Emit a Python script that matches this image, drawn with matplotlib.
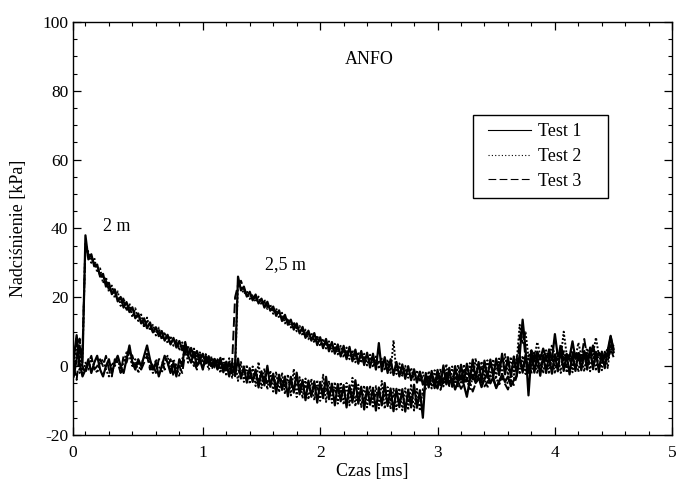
import numpy as np
import matplotlib
matplotlib.use("Agg")
import matplotlib.pyplot as plt
from matplotlib.ticker import MultipleLocator, FixedLocator
from matplotlib.patches import Rectangle

plt.rcParams['font.family'] = ['Liberation Serif', 'DejaVu Serif']
plt.rcParams['axes.unicode_minus'] = False

# sampling of the recorded signals [ms]
T_START = -0.1
T_STEP = 0.025

# overpressure [kPa], gauge at 2 m
test1_2m = [
    -3, 2, 6, 1, 38, 31, 32.5, 29, 29.5, 26,
    26.8, 23.1, 24.2, 20.9, 22.3, 18.8, 20.1, 17.0, 18.6, 15.7,
    17.1, 13.9, 15.3, 12.4, 13.9, 11.0, 12.7, 9.8, 11.3, 8.7,
    10.2, 7.4, 9.1, 6.3, 8.2, 5.4, 7.3, 4.6, 6.2, 3.3,
    5.3, 2.5, 4.4, 1.7, 3.6, 0.8, 2.9, 0.2, 2.1, -0.6,
    2.4, -1.8, 1.3, -3.0, 0.9, -2.9, 2.2, -3.6, -0.1, -4.8,
    -0.6, -4.6, -1.0, -6.2, -1.5, -5.6, 0.1, -6.0, -2.2, -7.9,
    -2.5, -6.9, -3.0, -8.8, -3.1, -7.7, -1.9, -8.2, -4.0, -9.9,
    -4.2, -8.9, -4.4, -10.6, -4.6, -9.3, -3.1, -9.6, -5.1, -11.4,
    -5.2, -10.2, -5.5, -12.0, -5.6, -10.6, -4.1, -10.9, -6.0, -12.6,
    -6.1, -11.2, -6.3, -12.9, -6.2, -11.4, -4.9, -11.6, -6.5, -13.1,
    -6.6, -11.9, -6.7, -13.2, -6.8, -12.0, -5.4, -12.1, -7.0, -15.0,
    -2.0, -6.2, -1.4, -6.4, -1.1, -5.5, 0.2, -5.3, -0.5, -6.0,
    0.0, -4.8, 0.4, -4.6, 0.7, -4.0, 1.9, -3.8, 1.2, -4.5,
    1.6, -3.4, 1.9, -3.1, 2.2, -2.6, 3.6, -2.4, 2.6, -3.1,
    2.8, -2.1, 3.0, -1.9, 3.2, -1.6, 4.6, -1.9, 3.1, -2.8,
    3.2, -2.0, 3.1, -2.2, 3.4, -1.5, 4.9, -1.4, 3.4, -2.4,
    3.5, -1.4, 3.8, -1.2, 3.9, -1.0, 5.4, -0.9, 4.1, -1.7,
    4.2, -0.6, 4.6, 8.8, 4.1,
]
test2_2m = [
    1, 8, -2, 3, 36, 33, 30, 31.5, 27.2, 28.4,
    24.1, 25.9, 21.6, 23.4, 19.8, 21.7, 17.5, 19.9, 16.1, 18.2,
    14.2, 16.8, 13.1, 15.0, 11.2, 14.1, 10.3, 12.0, 8.9, 11.2,
    7.8, 9.9, 6.6, 8.8, 5.9, 7.6, 4.5, 6.9, 3.8, 5.8,
    2.6, 5.1, 1.9, 4.0, 1.0, 3.5, 0.3, 2.8, -0.4, 2.2,
    -2.0, 2.6, -2.9, 2.3, -3.4, 1.5, -4.3, 1.2, -4.6, 0.4,
    -5.2, -0.1, -5.8, 1.2, -6.4, -0.7, -6.8, -1.3, -7.4, -1.6,
    -7.6, -1.9, -8.1, -2.4, -8.5, -0.8, -9.0, -3.2, -9.4, -3.6,
    -9.7, -3.7, -9.9, -4.0, -10.1, -2.5, -10.4, -4.3, -10.7, -4.6,
    -10.9, -4.7, -11.2, -4.9, -11.4, -3.4, -11.7, -5.4, -11.9, -5.6,
    -12.0, -5.7, -12.2, -5.8, -12.3, -4.3, -12.4, -6.1, -12.5, -6.3,
    -12.6, -6.4, -12.8, -6.4, -12.8, -5.2, -12.9, -6.6, -13.0, -6.7,
    -6.6, -1.4, -6.5, -1.2, -6.2, -0.8, -5.9, 0.6, -5.5, -0.1,
    -5.1, 0.3, -4.8, 0.5, -4.5, 0.9, -4.2, 2.3, -3.9, 1.4,
    -3.7, 1.7, -3.4, 2.0, -3.2, 2.2, -2.9, 3.5, -2.6, 2.7,
    -2.5, 2.8, -2.4, 3.0, -2.3, 3.1, -2.2, 4.3, -2.2, 3.1,
    -2.1, 3.2, -2.3, 3.3, -2.2, 3.2, -2.0, 4.6, -1.9, 3.5,
    -1.8, 3.6, -1.7, 3.7, -1.6, 3.8, -1.5, 5.0, -1.4, 4.1,
    -1.2, 4.2, -0.6, 6.5, 3.3,
]
test3_2m = [
    0, -4, 4, 5, 35, 32.5, 31.5, 29.8, 28.6, 26.4,
    25.9, 24.8, 22.2, 22.6, 21.5, 19.1, 19.6, 18.8, 16.5, 17.1,
    16.3, 14.2, 14.8, 14.0, 11.9, 12.6, 12.0, 9.9, 10.7, 10.1,
    8.1, 9.0, 8.5, 6.6, 7.5, 7.0, 5.1, 6.0, 5.5, 3.6,
    4.5, 4.1, 2.3, 3.3, 2.9, 1.1, 2.2, 1.8, 0.1, 1.2,
    0.9, -0.9, 0.6, 0.0, -1.7, -0.6, -0.9, -2.5, -1.4, -1.7,
    -3.3, -2.2, -2.4, -4.1, -2.9, -3.1, -4.7, -3.5, -3.7, -5.3,
    -4.1, -4.3, -5.9, -4.7, -4.9, -6.5, -5.3, -5.5, -7.1, -5.9,
    -6.0, -7.5, -6.2, -6.3, -7.8, -6.5, -6.6, -8.1, -6.9, -7.0,
    -8.5, -7.2, -7.3, -8.8, -7.5, -7.6, -9.2, -7.9, -8.0, -9.5,
    -8.1, -8.2, -9.6, -8.3, -8.3, -9.7, -8.4, -8.5, -9.9, -8.6,
    -8.6, -10.1, -8.7, -8.8, -10.2, -8.9, -8.9, -10.4, -9.0, -9.1,
    -4.6, -3.5, -4.3, -4.7, -3.1, -3.9, -4.1, -2.5, -3.3, -3.5,
    -1.9, -2.7, -2.9, -1.4, -2.3, -2.5, -1.0, -1.9, -2.1, -0.6,
    -1.5, -1.6, 0.2, -1.1, -1.2, 0.6, -0.7, -0.8, 1.0, -0.4,
    -0.3, 1.2, -0.1, 0.0, 1.4, 0.0, 0.1, 1.5, 0.0, 0.1,
    1.5, 0.0, 0.1, 1.6, 0.1, 0.2, 1.7, 0.2, 0.3, 1.8,
    0.3, 0.5, 2.1, 0.5, 0.6, 2.3, 0.7, 0.8, 2.5, 0.9,
    1.0, 2.8, 1.6, 5.0, 2.6,
]

# overpressure [kPa], gauge at 2.5 m
test1_25m = [
    2, 9, 1, -3, -1, 2, -2, 1, 3, -1,
    -3, 0, 2, -2, 1, 3, 0, -2, 2, 6,
    1, -1, 2, 0, 3, 6, 2, -1, 1, -3,
    0, 3, 1, -2, 1, -3, 2, 0, 7, 3,
    1, 4, 0, 2, -1, 3, 1, 0, 2, -1,
    1, 0, -1, 1, -2, 0, 26, 22.0, 23.1, 20.2,
    21.6, 19.1, 20.8, 18.2, 19.6, 17.0, 18.7, 16.1, 17.3, 14.6,
    16.2, 13.1, 14.9, 12.0, 13.5, 10.6, 12.4, 9.5, 11.4, 8.2,
    10.3, 7.4, 9.6, 6.1, 8.4, 5.2, 7.9, 4.3, 7.0, 3.6,
    6.3, 2.8, 5.9, 2.0, 5.6, 1.4, 4.8, 0.7, 4.4, 0.3,
    3.9, -0.4, 3.6, -1.0, 6.7, -1.5, 2.6, -2.0, 2.0, -2.6,
    1.2, -3.0, 0.5, -3.7, 0.0, -4.1, -0.9, -4.8, -1.6, -5.4,
    -3.0, -5.6, -2.4, -4.8, -6.5, -3.1, -4.2, -2.0, -5.1, -3.6,
    -6.8, -4.4, -2.9, -5.5, -8.9, -4.0, -2.6, -4.9, -3.3, -6.1,
    -3.8, -2.1, -5.0, -3.2, -6.4, -4.3, -2.5, -4.6, -3.0, -5.8,
    -4.1, -2.7, 3.0, 13.5, 5.0, -8.5, 3.5, 1.6, 4.2, 2.0,
    5.1, 2.5, 3.8, 1.9, 9.3, 2.8, 4.0, 1.7, 3.5, 2.6,
    7.2, 2.1, 3.6, 1.5, 4.4, 2.3, 3.2, 6.0, 2.2, 3.9,
    1.8, 3.5, 2.9, 8.5, 5.0,
]
test2_25m = [
    0, 7, 4, -2, 1, -1, 2, 0, -2, 1,
    2, -1, -3, 1, 0, 2, -1, 1, 4, 3,
    0, 2, -2, 1, 2, 4, 0, -2, 2, 0,
    -2, 1, 3, -1, 2, 0, -3, 2, 5, 1,
    2, 0, 3, 1, 0, 2, -1, 1, 0, 2,
    -1, 1, 0, -1, 1, -1, 24.5, 23.1, 21.0, 21.8,
    19.5, 20.9, 18.6, 20.2, 17.9, 19.3, 16.6, 17.9, 15.2, 16.8,
    13.9, 15.5, 12.4, 13.9, 11.2, 12.9, 10.1, 11.7, 8.8, 10.6,
    7.8, 9.7, 6.7, 8.9, 5.8, 8.0, 5.1, 7.2, 4.2, 6.5,
    3.4, 5.9, 2.5, 5.4, 2.0, 4.7, 1.1, 4.1, 0.9, 3.6,
    0.2, 3.3, -0.3, 2.8, -0.8, 2.2, -1.3, 1.9, -2.0, 7.5,
    -2.3, 0.8, -2.8, 0.1, -3.4, -0.5, -4.0, -1.2, -4.6, -1.8,
    -5.1, -2.8, -4.0, -6.2, -3.4, -2.5, -5.0, -3.9, -2.2, -4.7,
    -3.1, -5.9, -2.7, -4.2, -3.6, -7.0, -3.0, -4.4, -2.3, -5.2,
    -3.5, -6.3, -2.8, -4.0, -3.3, -5.7, -2.4, -3.9, -5.1, -2.6,
    -3.7, 1.5, 12.0, 6.5, 9.8, 2.5, 4.8, 2.6, 7.0, 3.1,
    2.4, 4.6, 2.0, 6.2, 3.0, 4.2, 2.5, 10.0, 3.4, 2.8,
    4.5, 2.2, 6.8, 3.1, 2.6, 5.2, 2.4, 3.7, 8.3, 2.9,
    4.1, 2.6, 5.4, 4.0, 6.2,
]
test3_25m = [
    -1, 3, 8, 0, -2, 1, 3, -1, 0, 2,
    0, 3, -1, -3, 2, 1, -2, 3, 1, 4,
    3, 0, 1, -1, 1, 3, -1, 1, -2, 2,
    2, -1, 0, 2, -3, 1, 0, -2, 4, 6,
    3, 1, -1, 2, 0, 1, 3, -1, 1, 0,
    2, -1, 1, 0, 1, 20, 23.5, 24.8, 22.4, 20.6,
    20.9, 19.6, 19.9, 19.2, 18.5, 18.6, 17.3, 17.4, 16.1, 15.9,
    15.2, 14.0, 13.8, 13.2, 12.0, 12.2, 11.0, 10.9, 10.3, 9.1,
    9.2, 8.6, 7.6, 7.9, 7.3, 6.2, 6.6, 6.1, 4.8, 5.3,
    4.9, 3.5, 4.3, 4.0, 2.6, 3.4, 3.2, 1.6, 2.6, 2.5,
    0.9, 2.0, 1.8, 0.1, 1.3, 1.2, -0.6, 0.6, 0.4, -1.4,
    -0.2, -0.4, -2.3, -1.2, -1.4, -3.3, -2.1, -2.4, -4.2, -3.0,
    -3.6, -4.4, -5.5, -3.8, -4.6, -6.9, -4.1, -3.5, -5.8, -4.9,
    -3.2, -4.5, -6.6, -5.1, -3.9, -4.8, -7.4, -5.0, -3.6, -4.3,
    -5.9, -4.6, -3.3, -4.1, -6.2, -4.4, -3.4, -5.2, -6.8, -4.0,
    -5.5, -3.0, 8.5, 11.0, 2.0, -2.0, 2.8, 1.9, 3.6, 2.2,
    3.0, 1.6, 4.9, 2.4, 3.1, 1.8, 6.6, 2.5, 3.2, 1.9,
    3.6, 2.6, 4.4, 2.0, 7.9, 2.7, 3.3, 2.1, 4.0, 2.8,
    3.1, 2.4, 3.8, 6.0, 3.8,
]

labels = ["Test 1", "Test 2", "Test 3"]
x_tick_labels = ["0", "1", "2", "3", "4", "5"]


def times(vals):
    return T_START + T_STEP * np.arange(len(vals))


fig = plt.figure(figsize=(6.77, 4.86), dpi=100)
ax = fig.add_axes([0.108, 0.105, 0.885, 0.85])

styles = [dict(ls='-', lw=1.6), dict(ls=(0, (1, 1)), lw=1.4), dict(ls=(0, (5, 2)), lw=1.4)]
leg_styles = [dict(ls='-', lw=0.8), dict(ls=(0, (1, 2)), lw=0.8), dict(ls=(0, (7, 3)), lw=0.8)]
handles = []
for vals_a, vals_b, st, lst, lab in zip([test1_2m, test2_2m, test3_2m],
                                        [test1_25m, test2_25m, test3_25m],
                                        styles, leg_styles, labels):
    ax.plot(times(vals_a), vals_a, color='black', **st)
    ax.plot(times(vals_b), vals_b, color='black', **st)
    h, = ax.plot([], [], color='black', label=lab, **lst)
    handles.append(h)

XMIN = -0.105
ax.set_xlim(XMIN, 5.0)
ax.set_ylim(-20, 100)
ax.xaxis.set_major_locator(FixedLocator([XMIN, 1, 2, 3, 4, 5]))
ax.set_xticklabels(x_tick_labels)
ax.xaxis.set_minor_locator(FixedLocator([0, 0.2, 0.4, 0.6, 0.8, 1.2, 1.4, 1.6, 1.8,
                                         2.2, 2.4, 2.6, 2.8, 3.2, 3.4, 3.6, 3.8,
                                         4.2, 4.4, 4.6, 4.8]))
ax.yaxis.set_major_locator(MultipleLocator(20))
ax.yaxis.set_minor_locator(MultipleLocator(5))
ax.tick_params(which='both', direction='in', top=True, right=True, labelsize=12.5)
ax.tick_params(which='major', length=6, width=0.9)
ax.tick_params(which='minor', length=3, width=0.8)
ax.tick_params(axis='x', pad=7)
for s in ax.spines.values():
    s.set_linewidth(1.0)

ax.set_xlabel("Czas [ms]", fontsize=13, labelpad=2)
ax.set_ylabel("Nadciśnienie [kPa]", fontsize=13, labelpad=11)

ax.text(2.42, 89, "ANFO", fontsize=13, ha='center', va='center')
ax.text(0.15, 40.5, "2 m", fontsize=13, ha='left', va='center')
ax.text(1.53, 29.5, "2,5 m", fontsize=13, ha='left', va='center')

# legend box
ax.add_patch(Rectangle((0.668, 0.574), 0.225, 0.201, transform=ax.transAxes,
                       facecolor='white', edgecolor='black', lw=1.0, zorder=5))
leg = ax.legend(handles=handles, loc='center', bbox_to_anchor=(0.771, 0.674),
                fontsize=13, frameon=False, handlelength=2.35, borderpad=0,
                labelspacing=0.42, handletextpad=0.4, borderaxespad=0)
leg.set_zorder(6)

fig.savefig("out.png", dpi=100)
